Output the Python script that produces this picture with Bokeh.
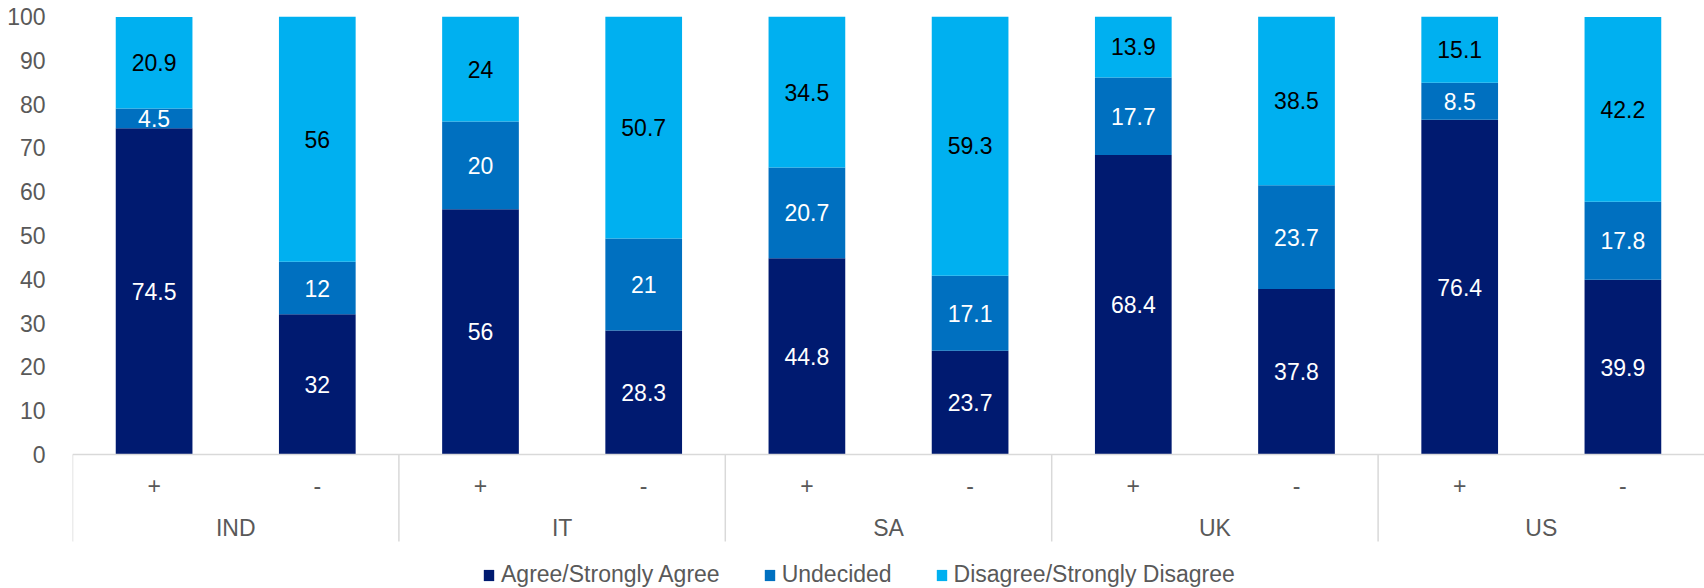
from bokeh.plotting import figure
from bokeh.models import FactorRange, ColumnDataSource, Legend, LegendItem, FixedTicker, Range1d, Span
from bokeh.core.properties import value
from bokeh.embed import file_html
from bokeh.resources import INLINE

countries = ["IND", "IT", "SA", "UK", "US"]
signs = ["+", "-"]
agree = [74.5, 32, 56, 28.3, 44.8, 23.7, 68.4, 37.8, 76.4, 39.9]
undecided = [4.5, 12, 20, 21, 20.7, 17.1, 17.7, 23.7, 8.5, 17.8]
disagree = [20.9, 56, 24, 50.7, 34.5, 59.3, 13.9, 38.5, 15.1, 42.2]
series_names = ["Agree/Strongly Agree", "Undecided", "Disagree/Strongly Disagree"]
colors = ["#001A70", "#0070C0", "#00B0F0"]
label_colors = ["white", "white", "black"]
y_ticks = [0, 10, 20, 30, 40, 50, 60, 70, 80, 90, 100]

FONT = "Liberation Sans"
GRAY = "#595959"

factors = [(c, s) for c in countries for s in signs]
series = [agree, undecided, disagree]

data = {"x": factors}
for name, vals in zip(series_names, series):
    data[name] = vals
src = ColumnDataSource(data)

# frame: y=100 at 16px, y=0 at 454px -> 4.38 px per unit; frame extends to 588px
px_per_unit = 438 / 100.0
y_bottom = 100 - 572 / px_per_unit

p = figure(width=1704, height=588,
           x_range=FactorRange(*factors, group_padding=0, factor_padding=0, range_padding=0),
           y_range=Range1d(y_bottom, 100),
           output_backend="svg", toolbar_location=None,
           x_axis_location=None,
           min_border_left=72, min_border_right=0, min_border_top=16, min_border_bottom=0)
p.outline_line_color = None
p.grid.visible = False
p.background_fill_color = "white"
p.border_fill_color = "white"

ya = p.yaxis[0]
ya.ticker = FixedTicker(ticks=y_ticks)
ya.axis_line_color = None
ya.major_tick_line_color = None
ya.minor_tick_line_color = None
ya.major_label_standoff = 21
ya.major_label_text_font = FONT
ya.major_label_text_font_size = "23px"
ya.major_label_text_color = GRAY

renderers = p.vbar_stack(series_names, x="x", width=0.47, color=colors, source=src,
                         line_color=None)

# data labels
for k, (vals, lc) in enumerate(zip(series, label_colors)):
    bottoms = [sum(series[j][i] for j in range(k)) for i in range(len(vals))]
    mids = [b + v / 2 for b, v in zip(bottoms, vals)]
    texts = [("%g" % v) for v in vals]
    p.text(x=factors, y=mids, text=texts, text_align="center", text_baseline="middle",
           text_font=value(FONT), text_font_size="23px", text_color=lc)

# x axis line
p.add_layout(Span(location=0, dimension="width", line_color="#D9D9D9", line_width=1.5))

# group separators
sep_x = [(c, "+", -0.5) for c in countries]
p.segment(x0=sep_x, y0=[0] * len(sep_x), x1=sep_x, y1=[-87 / px_per_unit] * len(sep_x),
          line_color="#D9D9D9", line_width=1.5)

# sub-category labels
p.text(x=factors, y=[-31 / px_per_unit] * len(factors), text=[f[1] for f in factors],
       text_align="center", text_baseline="middle",
       text_font=value(FONT), text_font_size="23px", text_color=GRAY)
# group labels
p.text(x=countries, y=[-73 / px_per_unit] * len(countries), text=countries,
       text_align="center", text_baseline="middle",
       text_font=value(FONT), text_font_size="23px", text_color=GRAY)

legend = Legend(items=[LegendItem(label=n, renderers=[r]) for n, r in zip(series_names, renderers)],
                orientation="horizontal", location=(410, 0),
                glyph_width=13, glyph_height=14, label_standoff=6, spacing=43,
                padding=0, margin=0, border_line_color=None, background_fill_alpha=0,
                label_text_font=FONT, label_text_font_size="23px", label_text_color=GRAY)
p.add_layout(legend)

open("out.html", "w").write(file_html(p, INLINE))
